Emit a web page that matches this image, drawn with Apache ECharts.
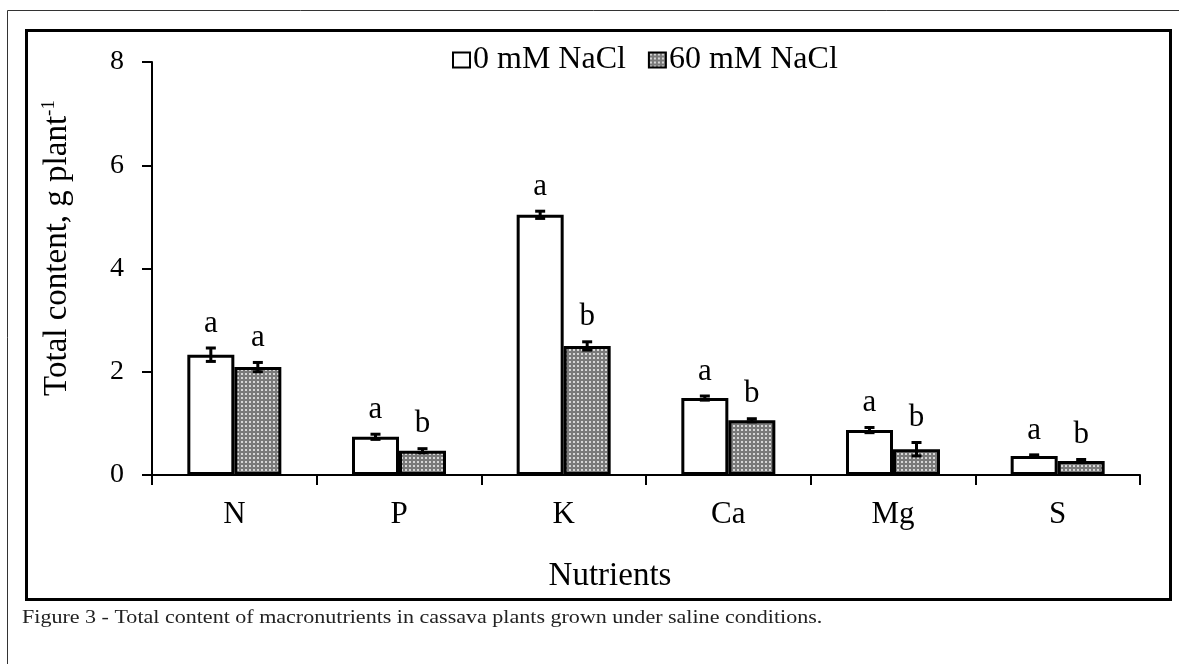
<!DOCTYPE html>
<html>
<head>
<meta charset="utf-8">
<script src="https://cdn.jsdelivr.net/npm/echarts@6/dist/echarts.min.js"></script>
<style>
html,body{margin:0;padding:0;background:#fff;}
#chart{width:1179px;height:664px;}
</style>
</head>
<body>
<div id="chart"></div>
<script>
// ---- data ----
var categories = ['N', 'P', 'K', 'Ca', 'Mg', 'S'];
var seriesNames = ['0 mM NaCl', '60 mM NaCl'];
var values0 = [2.33, 0.74, 5.04, 1.49, 0.87, 0.37];
var values60 = [2.09, 0.47, 2.50, 1.06, 0.50, 0.27];
var err0 = [0.13, 0.05, 0.07, 0.04, 0.05, 0.02];
var err60 = [0.09, 0.04, 0.08, 0.03, 0.13, 0.03];
var letters0 = ['a', 'a', 'a', 'a', 'a', 'a'];
var letters60 = ['a', 'b', 'b', 'b', 'b', 'b'];
var yTicks = [0, 2, 4, 6, 8];

// ---- styles ----
var FONT = 'Liberation Serif, Times New Roman, serif';
var BAR_W = 47;

function makePattern() {
  var c = document.createElement('canvas');
  c.width = 4; c.height = 4;
  var ctx = c.getContext('2d');
  ctx.fillStyle = '#7a7a7a';
  ctx.fillRect(0, 0, 4, 4);
  ctx.fillStyle = '#d6d6d6';
  ctx.fillRect(1, 1, 2, 2);
  return c;
}
var pattern = { image: makePattern(), repeat: 'repeat' };

function errData(vals, errs) {
  return vals.map(function (v, i) { return [i, v, errs[i]]; });
}

function errRender(offsetSign, letters) {
  return function (params, api) {
    var i = api.value(0), v = api.value(1), e = api.value(2);
    var letter = letters[params.dataIndex];
    var c = api.coord([i, v]);
    var x = c[0] + offsetSign * BAR_W / 2;
    var hi = api.coord([i, v + e])[1];
    var lo = api.coord([i, v - e])[1];
    var cap = 5;
    var st = { stroke: '#000', lineWidth: 3 };
    return {
      type: 'group',
      children: [
        { type: 'line', shape: { x1: x, y1: hi, x2: x, y2: lo }, style: st },
        { type: 'line', shape: { x1: x - cap, y1: hi, x2: x + cap, y2: hi }, style: st },
        { type: 'line', shape: { x1: x - cap, y1: lo, x2: x + cap, y2: lo }, style: st },
        { type: 'text', x: x, y: hi - 9,
          style: { text: letter, font: '31px ' + FONT, fill: '#000',
                   textAlign: 'center', textVerticalAlign: 'bottom',
                   align: 'center', verticalAlign: 'bottom' } }
      ]
    };
  };
}

var chart = echarts.init(document.getElementById('chart'), null, { renderer: 'canvas' });

var option = {
  backgroundColor: '#fff',
  animation: false,
  grid: { left: 152, right: 39, top: 62, bottom: 189, containLabel: false },
  legend: {
    data: seriesNames,
    top: 39,
    left: 447,
    icon: 'rect',
    itemWidth: 17,
    itemHeight: 15,
    itemGap: 22,
    textStyle: { fontFamily: FONT, fontSize: 32, color: '#000', padding: [0, 0, 0, -2] }
  },
  xAxis: {
    type: 'category',
    data: categories,
    axisLine: { lineStyle: { color: '#000', width: 2 } },
    axisTick: { show: true, length: 10, lineStyle: { color: '#000', width: 2 }, alignWithLabel: false },
    axisLabel: { fontFamily: FONT, fontSize: 31, color: '#000', margin: 24 },
    splitLine: { show: false }
  },
  yAxis: {
    type: 'value',
    min: yTicks[0],
    max: yTicks[yTicks.length - 1],
    interval: yTicks[1] - yTicks[0],
    axisLine: { show: true, lineStyle: { color: '#000', width: 2 } },
    axisTick: { show: true, length: 10, lineStyle: { color: '#000', width: 2 } },
    axisLabel: { fontFamily: FONT, fontSize: 28, color: '#000', margin: 28 },
    splitLine: { show: false }
  },
  series: [
    {
      name: seriesNames[0], type: 'bar', data: values0, barWidth: BAR_W, barGap: '0%',
      itemStyle: { color: '#fff', borderColor: '#000', borderWidth: 3 }
    },
    {
      name: seriesNames[1], type: 'bar', data: values60, barWidth: BAR_W, barGap: '0%',
      itemStyle: { color: pattern, borderColor: '#000', borderWidth: 3 }
    },
    {
      type: 'custom', renderItem: errRender(-1, letters0), data: errData(values0, err0),
      z: 10, silent: true, encode: { x: 0, y: 1 }
    },
    {
      type: 'custom', renderItem: errRender(1, letters60), data: errData(values60, err60),
      z: 10, silent: true, encode: { x: 0, y: 1 }
    }
  ],
  graphic: [
    { type: 'polyline', shape: { points: [[1179, 10.5], [7.5, 10.5], [7.5, 664]] },
      style: { stroke: '#333', lineWidth: 1, fill: null }, silent: true },
    { type: 'rect', shape: { x: 26.5, y: 30.5, width: 1144, height: 569 },
      style: { stroke: '#000', lineWidth: 3, fill: null }, silent: true },
    { type: 'text', x: 57, y: 248, rotation: Math.PI / 2,
      style: {
        text: '{m|Total content, g plant}{s|-1}',
        rich: {
          m: { fontFamily: FONT, fontSize: 33, fill: '#000', color: '#000' },
          s: { fontFamily: FONT, fontSize: 19, fill: '#000', color: '#000', padding: [0, 0, 15, 0] }
        },
        align: 'center', verticalAlign: 'middle',
        textAlign: 'center', textVerticalAlign: 'middle'
      }, silent: true },
    { type: 'text', x: 610, y: 576,
      style: { text: 'Nutrients', font: '33px ' + FONT, fill: '#000',
               align: 'center', verticalAlign: 'middle', textAlign: 'center', textVerticalAlign: 'middle' },
      silent: true },
    { type: 'text', x: 22, y: 618,
      style: { text: 'Figure 3 - Total content of macronutrients in cassava plants grown under saline conditions.',
               font: '19px ' + FONT, fill: '#222',
               align: 'left', verticalAlign: 'middle', textAlign: 'left', textVerticalAlign: 'middle' },
      scaleX: 1.16, silent: true }
  ]
};
chart.setOption(option);
</script>
</body>
</html>
